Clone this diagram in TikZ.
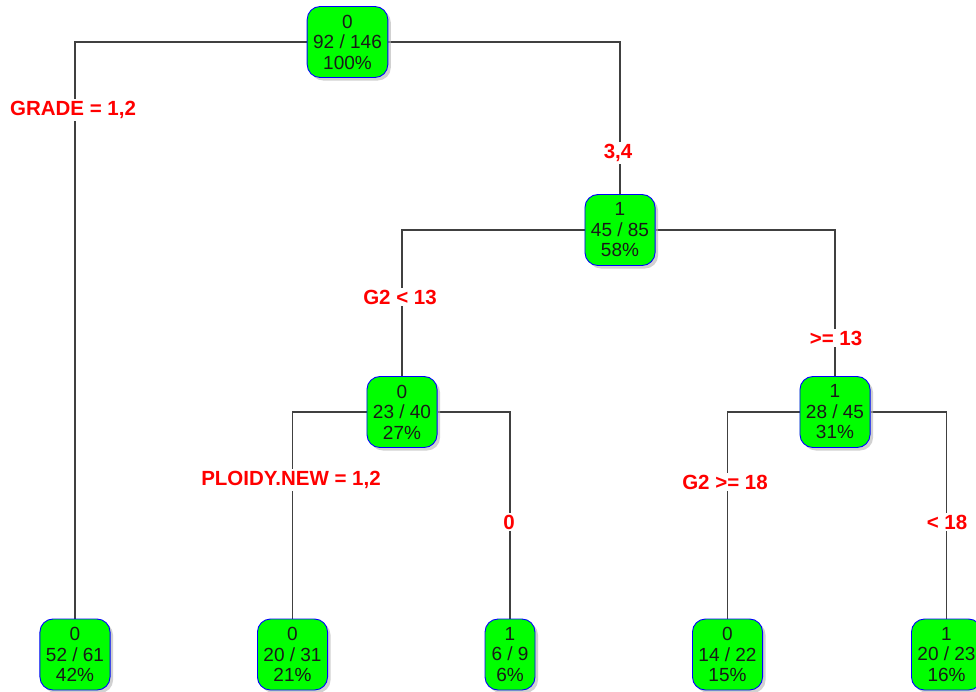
\documentclass[tikz,border=0pt]{standalone}
\usepackage{fontspec}
\setmainfont{Liberation Sans}
\usetikzlibrary{shadows,backgrounds}

\tikzset{
  x=1pt, y=-1pt,
  tnode/.style={draw=blue, line width=0.9pt, fill=green, rounded corners=13pt,
    align=center, font=\fontsize{19}{20.5}\selectfont, text=black!90,
    inner xsep=6pt, inner ysep=3pt, minimum width=50pt, minimum height=71pt,
    drop shadow={shadow xshift=3pt, shadow yshift=-3pt, fill=black!30, opacity=0.6}},
  edge/.style={draw=black!75, line width=1.1pt},
  lbl/.style={fill=white, text=red, inner sep=2pt,
    font=\fontsize{20.5}{22}\selectfont\bfseries}
}

\begin{document}
\begin{tikzpicture}
\useasboundingbox (0,0) rectangle (976,691);

% tree nodes: class / counts / share
\node[tnode] (n0) at (347.5,42)  {0\\92 / 146\\100\%};
\node[tnode] (n1) at (620,230)   {1\\45 / 85\\58\%};
\node[tnode] (n2) at (402,412)   {0\\23 / 40\\27\%};
\node[tnode] (n3) at (835,412)   {1\\28 / 45\\31\%};
\node[tnode] (l1) at (75,654.5)  {0\\52 / 61\\42\%};
\node[tnode] (l2) at (292.5,654.5) {0\\20 / 31\\21\%};
\node[tnode] (l3) at (510,654.5) {1\\6 / 9\\6\%};
\node[tnode] (l4) at (727.5,654.5) {0\\14 / 22\\15\%};
\node[tnode] (l5) at (946.5,654.5) {1\\20 / 23\\16\%};

% branches
\begin{scope}[on background layer]
\draw[edge] (n0.west) -| (l1.north);
\draw[edge] (n0.east) -| (n1.north);
\draw[edge] (n1.west) -| (n2.north);
\draw[edge] (n1.east) -| (n3.north);
\draw[edge] (n2.west) -| (l2.north);
\draw[edge] (n2.east) -| (l3.north);
\draw[edge] (n3.west) -| (l4.north);
\draw[edge] (n3.east) -| (l5.north);
\end{scope}

% split conditions
\node[lbl] (s1) at (73,110)  {GRADE = 1,2};
\node[lbl] (s2) at (618,153) {3,4};
\node[lbl] (s3) at (400,297) {G2 < 13};
\node[lbl] (s4) at (836,338) {>= 13};
\node[lbl] (s5) at (291,480) {PLOIDY.NEW = 1,2};
\node[lbl] (s6) at (509,522) {0};
\node[lbl] (s7) at (725,482) {G2 >= 18};
\node[lbl] (s8) at (947,522) {< 18};
\end{tikzpicture}
\end{document}
